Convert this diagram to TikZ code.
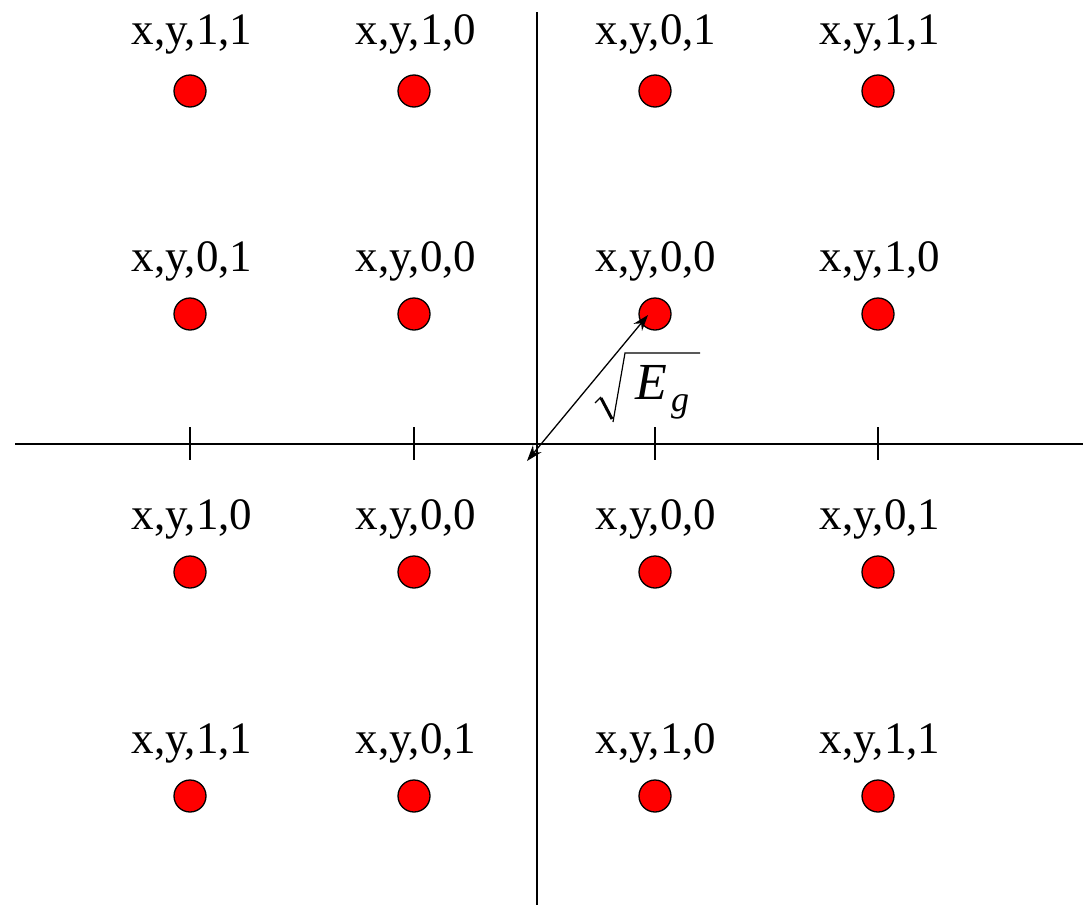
\documentclass[tikz,border=0pt]{standalone}
\usepackage{fontspec}
\setmainfont{Liberation Serif}
\usetikzlibrary{arrows.meta}
\begin{document}
\begin{tikzpicture}[x=1pt,y=-1pt,
  dot/.style={circle,draw=black,fill=red,line width=1.3pt,minimum size=32pt,inner sep=0pt},
  lab/.style={font=\fontsize{45}{48}\selectfont,anchor=base,inner sep=0pt},
  axis/.style={line width=1.6pt},
  tick/.style={line width=1.6pt},
  radical/.style={line width=1.2pt,line join=miter}]
\useasboundingbox (0,0) rectangle (1083,905);
\coordinate (O) at (537,444);
\draw[axis] (15,444) -- (1083,444);
\draw[axis] (537,12) -- (537,905);
\foreach \x in {190,414,655,878} \draw[tick] (\x,427) -- (\x,460);
\foreach \x/\c in {190/a,414/b,655/c,878/d}{
  \foreach \y/\r in {91/1,314/2,572/3,796/4}{
    \node[dot] (\c\r) at (\x,\y) {};
  }
}
% labels
\node[lab] at (192,44) {x,y,1,1};
\node[lab] at (416,44) {x,y,1,0};
\node[lab] at (656,44) {x,y,0,1};
\node[lab] at (880,44) {x,y,1,1};
\node[lab] at (192,271) {x,y,0,1};
\node[lab] at (416,271) {x,y,0,0};
\node[lab] at (656,271) {x,y,0,0};
\node[lab] at (880,271) {x,y,1,0};
\node[lab] at (192,529) {x,y,1,0};
\node[lab] at (416,529) {x,y,0,0};
\node[lab] at (656,529) {x,y,0,0};
\node[lab] at (880,529) {x,y,0,1};
\node[lab] at (192,753) {x,y,1,1};
\node[lab] at (416,753) {x,y,0,1};
\node[lab] at (656,753) {x,y,1,0};
\node[lab] at (880,753) {x,y,1,1};
% arrow
\coordinate (t1) at (527,461);
\coordinate (t2) at (648,315);
\draw[line width=1.3pt,{Stealth[length=16pt,width=11pt]}-{Stealth[length=16pt,width=11pt]}] (t1) -- (t2);
% sqrt(E_g)
\draw[radical] (595,403) -- (601,397);
\draw[line width=3pt] (601,398) -- (612,419);
\draw[radical] (613,422) -- (625,353) -- (700,353);
\node[font=\fontsize{52}{54}\selectfont\itshape,anchor=base,inner sep=0pt] (E) at (651,399) {E};
\node[font=\fontsize{36}{38}\selectfont\itshape,anchor=base,inner sep=0pt] (g) at (680,411) {g};
\end{tikzpicture}
\end{document}
